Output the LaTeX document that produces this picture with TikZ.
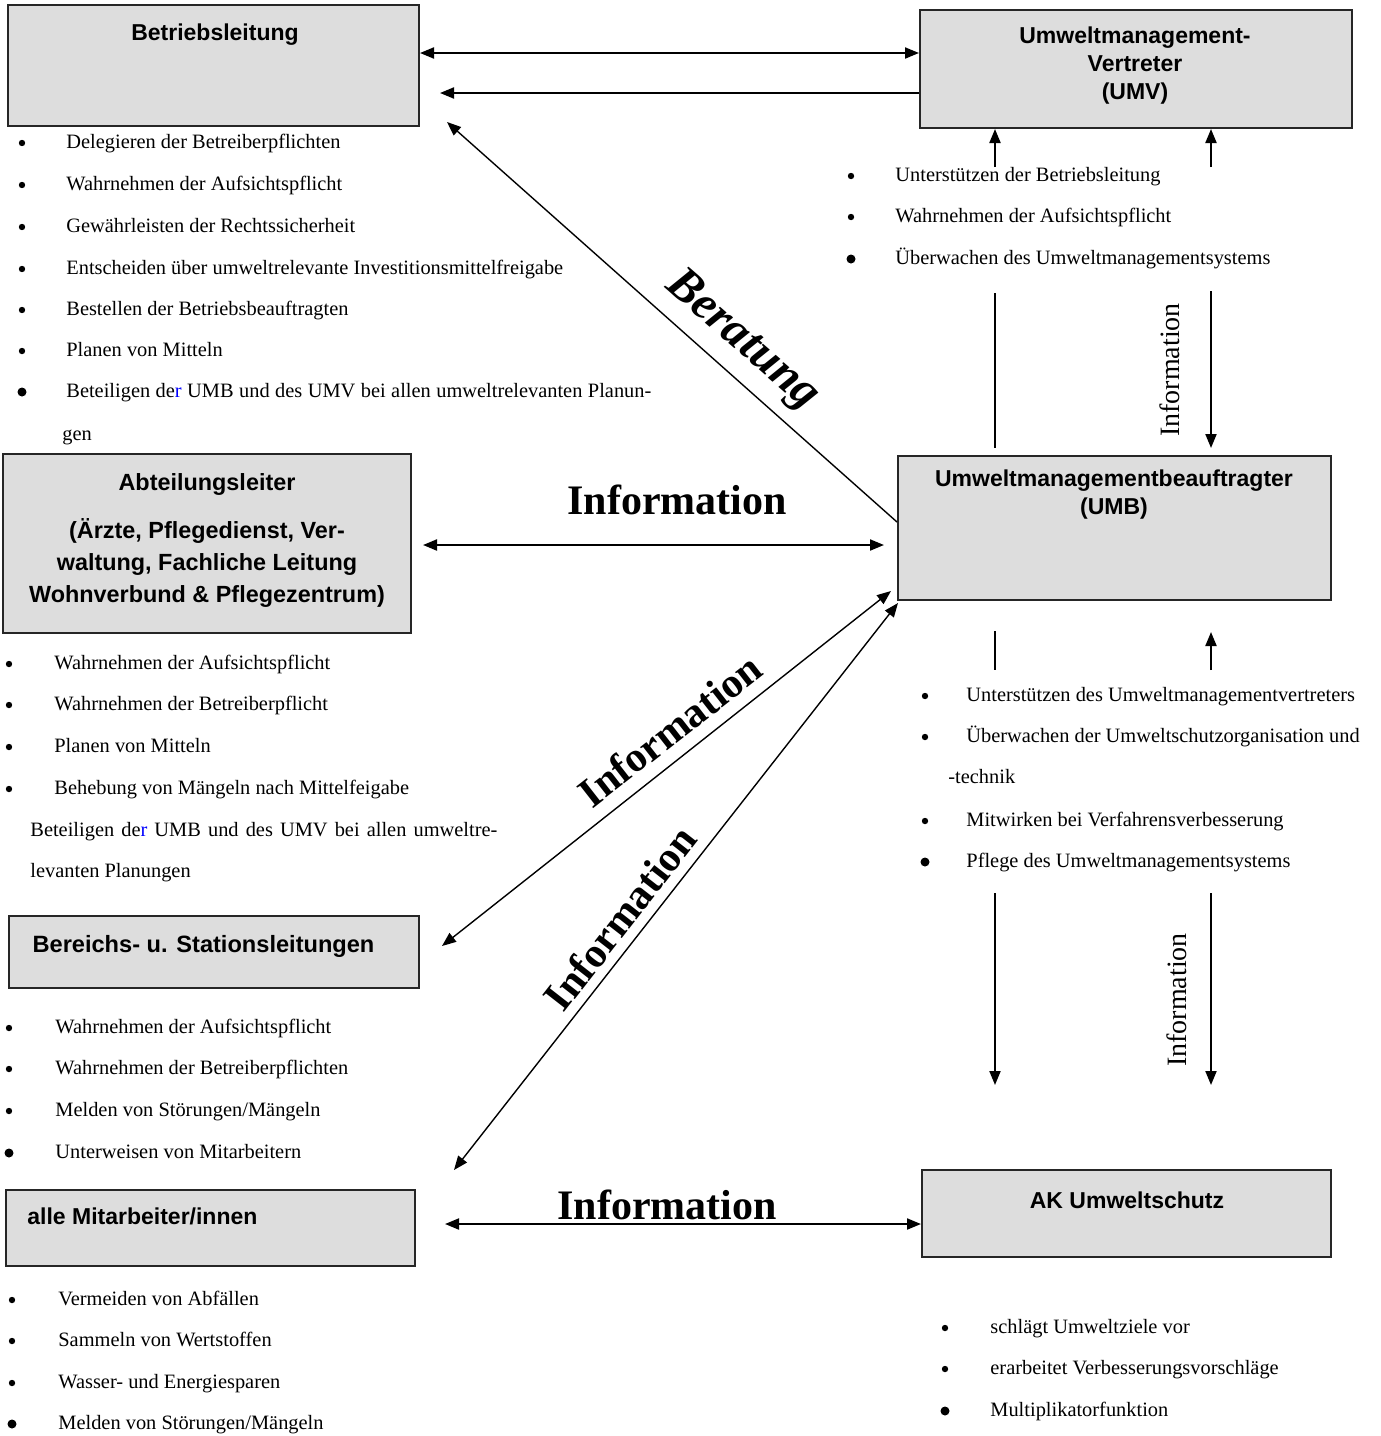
\documentclass[tikz,border=0pt]{standalone}
\usepackage{fontspec}
\setmainfont{Liberation Serif}
\newfontfamily\boxfont{Liberation Sans}
\usetikzlibrary{arrows.meta}
\definecolor{boxgray}{RGB}{221,221,221}

\begin{document}
\begin{tikzpicture}[x=0.5pt, y=-0.5pt,
    box/.style={draw=black!85, fill=boxgray, line width=1pt, inner sep=0pt},
    title/.style={font=\boxfont\bfseries\fontsize{11.5}{14}\selectfont, align=center, inner sep=0pt},
    item/.style={font=\fontsize{10.2}{12}\selectfont, anchor=base west, inner sep=0pt},
    bul/.style={circle, fill, inner sep=0pt, minimum size=#1},
    big/.style={font=\bfseries\fontsize{21}{24}\selectfont},
    side/.style={font=\fontsize{14}{16}\selectfont, rotate=90},
    >={Triangle[length=7pt,width=5.5pt]},
    link/.style={line width=1pt},
    slim/.style={line width=0.7pt}]
    \useasboundingbox (0,0) rectangle (1381,1436);

    \node[box, minimum width=205.5pt, minimum height=60.5pt] (bl) at (213.5,65.5) {};
    \node[title] (bl-t) at (215,35) {Betriebsleitung};
    \node[box, minimum width=216pt, minimum height=59pt] (umv) at (1136,69) {};
    \node[title] (umv-t) at (1135,66) {Umweltmanagement-\\Vertreter\\(UMV)};
    \node[box, minimum width=216.5pt, minimum height=72pt] (umb) at (1114.5,528) {};
    \node[title] (umb-t) at (1114,494.5) {Umweltmanagementbeauftragter\\(UMB)};
    \node[box, minimum width=204pt, minimum height=89.5pt] (al) at (207,543.5) {};
    \node[title, font=\boxfont\bfseries\fontsize{11.7}{16}\selectfont] (al-t) at (207,540)
        {Abteilungsleiter\\[8pt](Ärzte, Pflegedienst, Ver-\\waltung, Fachliche Leitung\\Wohnverbund \& Pflegezentrum)};
    \node[box, minimum width=205pt, minimum height=36pt] (bs) at (214,952) {};
    \node[title, font=\boxfont\bfseries\fontsize{11.8}{14}\selectfont] (bs-t) at (203.5,946) {Bereichs- u. Stationsleitungen};
    \node[box, minimum width=204.5pt, minimum height=38pt] (ma) at (210.5,1228) {};
    \node[title, anchor=west] (ma-t) at (27,1216) {alle Mitarbeiter/innen};
    \node[box, minimum width=204.5pt, minimum height=43.5pt] (ak) at (1126.5,1213.5) {};
    \node[title] (ak-t) at (1127,1200) {AK Umweltschutz};

    \foreach \y/\s/\t in {143/3.2pt/Delegieren der Betreiberpflichten,
            185/3.2pt/Wahrnehmen der Aufsichtspflicht,
            227/3.2pt/Gewährleisten der Rechtssicherheit,
            269/3.2pt/Entscheiden über umweltrelevante Investitionsmittelfreigabe,
            310/3.2pt/Bestellen der Betriebsbeauftragten,
            351/3.2pt/Planen von Mitteln,
            392/4.5pt/{\makebox[292.5pt][s]{Beteiligen de\textcolor{blue}{r} UMB und des UMV bei allen umweltrelevanten Planun-}}} {
        \node[bul=\s] (bl-d\y) at (22,\y) {};
        \node[item] (bl-i\y) at (66,\y+5) {\t};
    }
    \node[item] (bl-x) at (62,440) {gen};

    \foreach \y/\s/\t in {176/3.2pt/Unterstützen der Betriebsleitung,
            217/3.2pt/Wahrnehmen der Aufsichtspflicht,
            259/4.5pt/Überwachen des Umweltmanagementsystems} {
        \node[bul=\s] (umv-d\y) at (851,\y) {};
        \node[item] (umv-i\y) at (895,\y+5) {\t};
    }

    \foreach \y/\s/\t in {664/3.2pt/Wahrnehmen der Aufsichtspflicht,
            705/3.2pt/Wahrnehmen der Betreiberpflicht,
            747/3.2pt/Planen von Mitteln,
            789/3.2pt/Behebung von Mängeln nach Mittelfeigabe} {
        \node[bul=\s] (al-d\y) at (9,\y) {};
        \node[item] (al-i\y) at (54,\y+5) {\t};
    }
    \node[item] (al-x1) at (30,836) {\makebox[233.5pt][s]{Beteiligen de\textcolor{blue}{r} UMB und des UMV bei allen umweltre-}};
    \node[item] (al-x2) at (30,877) {levanten Planungen};

    \foreach \y/\s/\t in {1028/3.2pt/Wahrnehmen der Aufsichtspflicht,
            1069/3.2pt/Wahrnehmen der Betreiberpflichten,
            1111/3.2pt/{Melden von Störungen/Mängeln},
            1153/4.5pt/Unterweisen von Mitarbeitern} {
        \node[bul=\s] (bs-d\y) at (9,\y) {};
        \node[item] (bs-i\y) at (55,\y+5) {\t};
    }

    \foreach \y/\s/\t in {1300/3.2pt/Vermeiden von Abfällen,
            1341/3.2pt/Sammeln von Wertstoffen,
            1383/3.2pt/Wasser- und Energiesparen,
            1424/4.5pt/{Melden von Störungen/Mängeln}} {
        \node[bul=\s] (ma-d\y) at (12,\y) {};
        \node[item] (ma-i\y) at (58,\y+5) {\t};
    }

    \foreach \y/\s/\t in {696/3.2pt/Unterstützen des Umweltmanagementvertreters,
            737/3.2pt/Überwachen der Umweltschutzorganisation und,
            821/3.2pt/Mitwirken bei Verfahrensverbesserung,
            862/4.5pt/Pflege des Umweltmanagementsystems} {
        \node[bul=\s] (umb-d\y) at (925,\y) {};
        \node[item] (umb-i\y) at (966,\y+5) {\t};
    }
    \node[item] (umb-x) at (948,783) {-technik};

    \foreach \y/\s/\t in {1328/3.2pt/schlägt Umweltziele vor,
            1369/3.2pt/erarbeitet Verbesserungsvorschläge,
            1411/4.5pt/Multiplikatorfunktion} {
        \node[bul=\s] (ak-d\y) at (945,\y) {};
        \node[item] (ak-i\y) at (990,\y+5) {\t};
    }

    \coordinate (blin) at (440,93);
    \coordinate (bera) at (447,122);
    \coordinate (v1) at (995,167);
    \coordinate (v2) at (1211,167);
    \coordinate (v3) at (995,293);
    \coordinate (v4) at (1211,291);
    \coordinate (v5) at (995,631);
    \coordinate (v6) at (995,670);
    \coordinate (v7) at (1211,670);
    \coordinate (v8) at (1211,632);
    \coordinate (v9) at (995,893);
    \coordinate (v10) at (995,1085);
    \coordinate (v11) at (1211,893);
    \coordinate (v12) at (1211,1085);
    \coordinate (i1a) at (891,591);
    \coordinate (i1b) at (442,946);
    \coordinate (i2a) at (898,603);
    \coordinate (i2b) at (454,1170);

    \draw[link, <->] (bl.east |- 0,53) -- (umv.west |- 0,53);
    \draw[link, ->] (umv.west |- 0,93) -- (blin);
    \draw[slim, ->] (umb.west |- 0,522) -- (bera);
    \draw[link, ->] (v1) -- (v1 |- umv.south);
    \draw[link, ->] (v2) -- (v2 |- umv.south);
    \draw[link, shorten >=3.5pt] (v3) -- (v3 |- umb.north);
    \draw[link, ->, shorten >=3.5pt] (v4) -- (v4 |- umb.north);
    \draw[link] (v5) -- (v6);
    \draw[link, ->] (v7) -- (v8);
    \draw[link, ->] (v9) -- (v10);
    \draw[link, ->] (v11) -- (v12);
    \draw[link, <->, shorten <=5.5pt, shorten >=6.5pt] (al.east |- 0,545) -- (umb.west |- 0,545);
    \draw[slim, <->] (i1a) -- (i1b);
    \draw[slim, <->] (i2a) -- (i2b);
    \draw[link, <->, shorten <=14.5pt] (ma.east |- 0,1224) -- (ak.west |- 0,1224);

    \node[big] (inf1) at (677,500) {Information};
    \node[big, rotate=38] (inf2) at (670,730) {Information};
    \node[big, rotate=52] (inf3) at (620,918) {Information};
    \node[big] (inf4) at (667,1205) {Information};
    \node[big, font=\bfseries\itshape\fontsize{24}{28}\selectfont, rotate=-41] (bera-t) at (742,341) {Beratung};
    \node[side] (inf5) at (1170,370) {Information};
    \node[side] (inf6) at (1177,1000) {Information};
\end{tikzpicture}
\end{document}
